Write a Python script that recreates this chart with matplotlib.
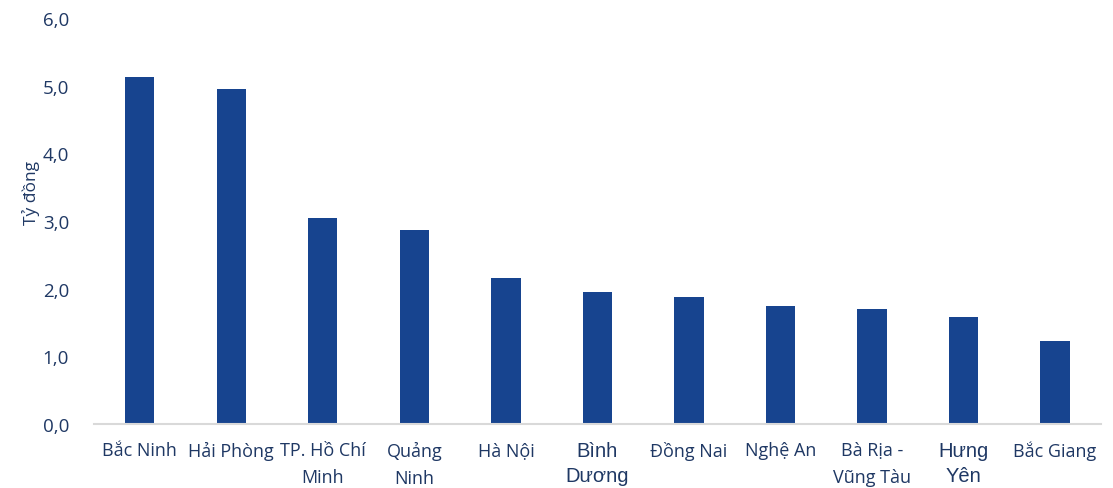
import numpy as np
import matplotlib.pyplot as plt

# doanh thu trung bình theo tỉnh (tỷ đồng)
provinces = ['Bắc Ninh', 'Hải Phòng', 'TP. Hồ Chí\nMinh', 'Quảng\nNinh', 'Hà Nội',
             'Bình\nDương', 'Đồng Nai', 'Nghệ An', 'Bà Rịa -\nVũng Tàu', 'Hưng\nYên',
             'Bắc Giang']
values = [5.13, 4.95, 3.04, 2.87, 2.16, 1.95, 1.88, 1.74, 1.70, 1.58, 1.23]
yticks = [0, 1, 2, 3, 4, 5, 6]

bar_color = '#17448f'
text_color = '#1f3864'

plt.rcParams['font.family'] = ['Open Sans', 'DejaVu Sans']

fig = plt.figure(figsize=(11.13, 4.89), dpi=100)
ax = fig.add_axes([0.0845, 0.131, 0.9045, 0.830])

x = np.arange(len(provinces))
ax.bar(x, values, width=0.32, color=bar_color, zorder=2)

ax.set_xlim(-0.5, len(provinces) - 0.5)
ax.set_ylim(0, 6)
ax.set_yticks(yticks)
ax.set_yticklabels([f'{v:.1f}'.replace('.', ',') for v in yticks])
ax.set_xticks(x)
ax.set_xticklabels(provinces, linespacing=1.65)

# hai nhãn dùng font khác
for lbl in ax.get_xticklabels():
    if lbl.get_text() in ('Bình\nDương', 'Hưng\nYên'):
        lbl.set_family(['Liberation Sans', 'DejaVu Sans'])
        lbl.set_fontsize(14.5)
        lbl.set_linespacing(1.4)
    else:
        lbl.set_fontsize(13)
    lbl.set_color(text_color)

ax.tick_params(axis='x', length=0, pad=12)
ax.tick_params(axis='y', length=0, pad=18, labelsize=13.5, labelcolor=text_color)

for side in ['left', 'right', 'top']:
    ax.spines[side].set_visible(False)
ax.spines['bottom'].set_color('#d9d9d9')
ax.spines['bottom'].set_linewidth(1.5)

fig.text(0.028, 0.605, 'Tỷ đồng', rotation=90, ha='center', va='center',
         fontsize=12.5, color=text_color)

fig.savefig('out.png', dpi=100)
